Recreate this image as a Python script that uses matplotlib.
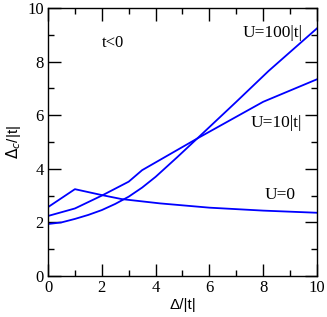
import matplotlib
matplotlib.use('Agg')
import matplotlib.pyplot as plt

# curves
x_u0 = [0, 1, 2, 2.74, 4.16, 6, 8, 10]
y_u0 = [2.57, 3.24, 3.02, 2.87, 2.71, 2.55, 2.44, 2.36]

x_u10 = [0, 1, 2, 3, 3.5, 5.6, 8, 10]
y_u10 = [2.24, 2.52, 3.0, 3.52, 3.95, 5.16, 6.5, 7.34]

x_u100 = [0, 0.5, 1, 1.5, 2, 2.5, 3, 3.5, 4, 4.8, 5.6, 7, 8.2, 10]
y_u100 = [1.94, 2.0, 2.13, 2.28, 2.46, 2.69, 2.96, 3.3, 3.7, 4.43, 5.18, 6.5, 7.65, 9.24]

serif = 'Liberation Serif'

fig = plt.figure(figsize=(3.27, 3.17), dpi=100)
ax = fig.add_axes([0.1468, 0.1293, 0.8226, 0.8455])

for xs, ys in [(x_u0, y_u0), (x_u10, y_u10), (x_u100, y_u100)]:
    ax.plot(xs, ys, color='#0000ff', lw=1.3)

ax.set_xlim(0, 10)
ax.set_ylim(0, 10)
ax.set_xticks(range(0, 11, 2))
ax.set_yticks(range(0, 11, 2))
ax.set_xticks(range(1, 10, 2), minor=True)
ax.set_yticks(range(1, 10, 2), minor=True)
ax.tick_params(which='both', direction='in', top=True, right=True, width=1)
ax.tick_params(which='major', length=9, labelsize=12, pad=3)
ax.tick_params(which='minor', length=4.5)
for lab in ax.get_xticklabels() + ax.get_yticklabels():
    lab.set_family(serif)
for s in ax.spines.values():
    s.set_linewidth(1)

ax.set_xlabel('Δ/|t|', fontsize=11, family='Liberation Sans', labelpad=1)
ax.set_ylabel(r'$\Delta_c$/|t|', fontsize=11, family='Liberation Sans', labelpad=3)

ax.text(2.0, 8.7, 't<0', family=serif, fontsize=12, va='center')
ax.text(9.45, 9.07, 'U=100|t|', family=serif, fontsize=12.5, va='center', ha='right')
ax.text(9.45, 5.7, 'U=10|t|', family=serif, fontsize=12.5, va='center', ha='right')
ax.text(9.2, 3.02, 'U=0', family=serif, fontsize=12.5, va='center', ha='right')

fig.savefig('out.png', dpi=100)
